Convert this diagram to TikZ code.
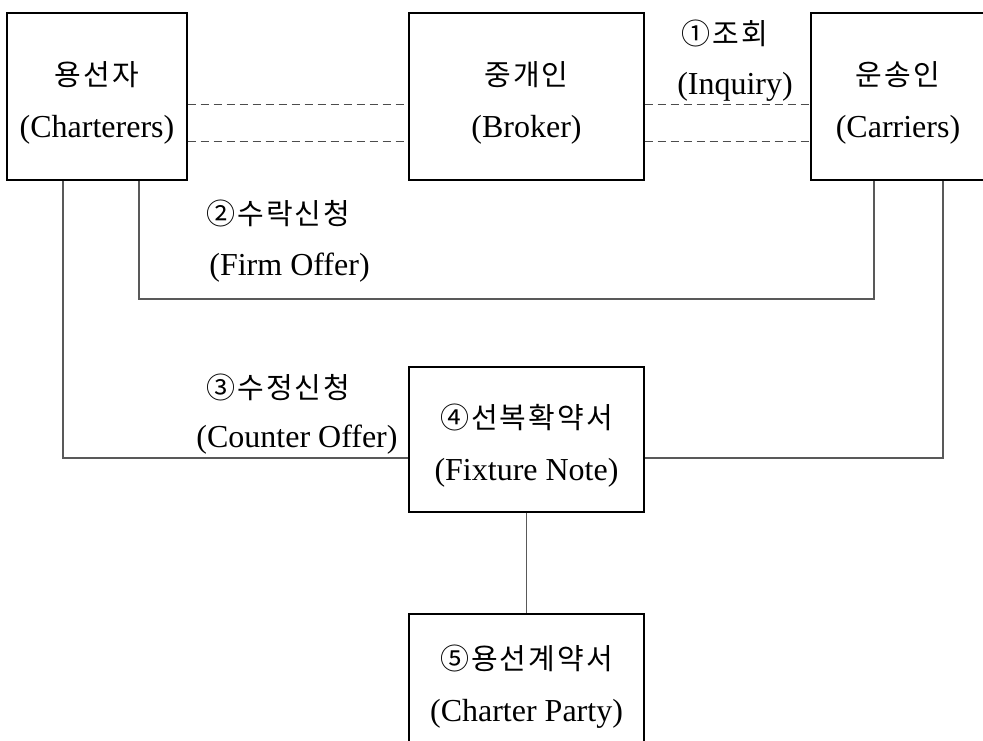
\documentclass[tikz,border=0pt]{standalone}
\usepackage{fontspec}
\setmainfont{Liberation Serif}
\newfontfamily\kr[LetterSpace=7]{Noto Sans CJK KR}
\newcommand\ko[1]{{\kr\fontsize{14.5pt}{26pt}\selectfont #1}}
\newcommand\pair[2]{\rule{0pt}{18pt}\ko{#1}\\#2}

\begin{document}
\begin{tikzpicture}[x=0.5pt,y=-0.5pt,
  every node/.style={font=\fontsize{16pt}{26pt}\selectfont},
  box/.style={draw, line width=0.6pt, align=center, inner sep=0pt},
  tag/.style={inner sep=0pt},
  link/.style={draw=black!65, line width=0.6pt},
  dlink/.style={draw=black!70, line width=0.5pt, dash pattern=on 4pt off 2.5pt}]
  \clip (0,0) rectangle (983,740);

  % Parties
  \node[box, minimum width=90pt, minimum height=83.5pt] (chart) at (97,96.5) {\pair{용선자}{(Charterers)}};
  \node[box, minimum width=117.5pt, minimum height=83.5pt] (brk) at (526.5,96.5) {\pair{중개인}{(Broker)}};
  \node[box, minimum width=87pt, minimum height=83.5pt] (carr) at (898,96.5) {\pair{운송인}{(Carriers)}};

  % Documents
  \node[box, minimum width=117.5pt, minimum height=72.5pt] (fix) at (526.5,439.5) {\pair{④선복확약서}{(Fixture Note)}};
  \node[box, minimum width=117.5pt, minimum height=67pt] (cp) at (526.5,681) {\pair{⑤용선계약서}{(Charter Party)}};

  % Levels of the connectors
  \coordinate (d1) at (0,104);
  \coordinate (d2) at (0,141);
  \coordinate (fl) at (139,299);
  \coordinate (fr) at (874,299);
  \coordinate (cl) at (63,458);
  \coordinate (cr) at (943,458);

  % Inquiry through the broker
  \draw[dlink] (chart.east |- d1) -- (brk.west |- d1);
  \draw[dlink] (chart.east |- d2) -- (brk.west |- d2);
  \draw[dlink] (brk.east |- d1) -- (carr.west |- d1);
  \draw[dlink] (brk.east |- d2) -- (carr.west |- d2);

  % Firm offer
  \draw[link] (chart.south -| fl) -- (fl) -- (fr) -- (carr.south -| fr);

  % Counter offer
  \draw[link] (chart.south -| cl) -- (cl) -- (fix.west |- cl);
  \draw[link] (carr.south -| cr) -- (cr) -- (fix.east |- cr);
  \draw[link] (fix.south) -- (cp.north);

  % Labels
  \node[tag] (inq1) at (725,33) {\ko{①조회}};
  \node[tag] (inq2) at (735,87) {(Inquiry)};
  \node[tag, anchor=west] (firm1) at (206,213) {\ko{②수락신청}};
  \node[tag, anchor=west] (firm2) at (209,268) {(Firm Offer)};
  \node[tag, anchor=west] (cnt1) at (206,387) {\ko{③수정신청}};
  \node[tag, anchor=west] (cnt2) at (196,440) {(Counter Offer)};
\end{tikzpicture}
\end{document}
